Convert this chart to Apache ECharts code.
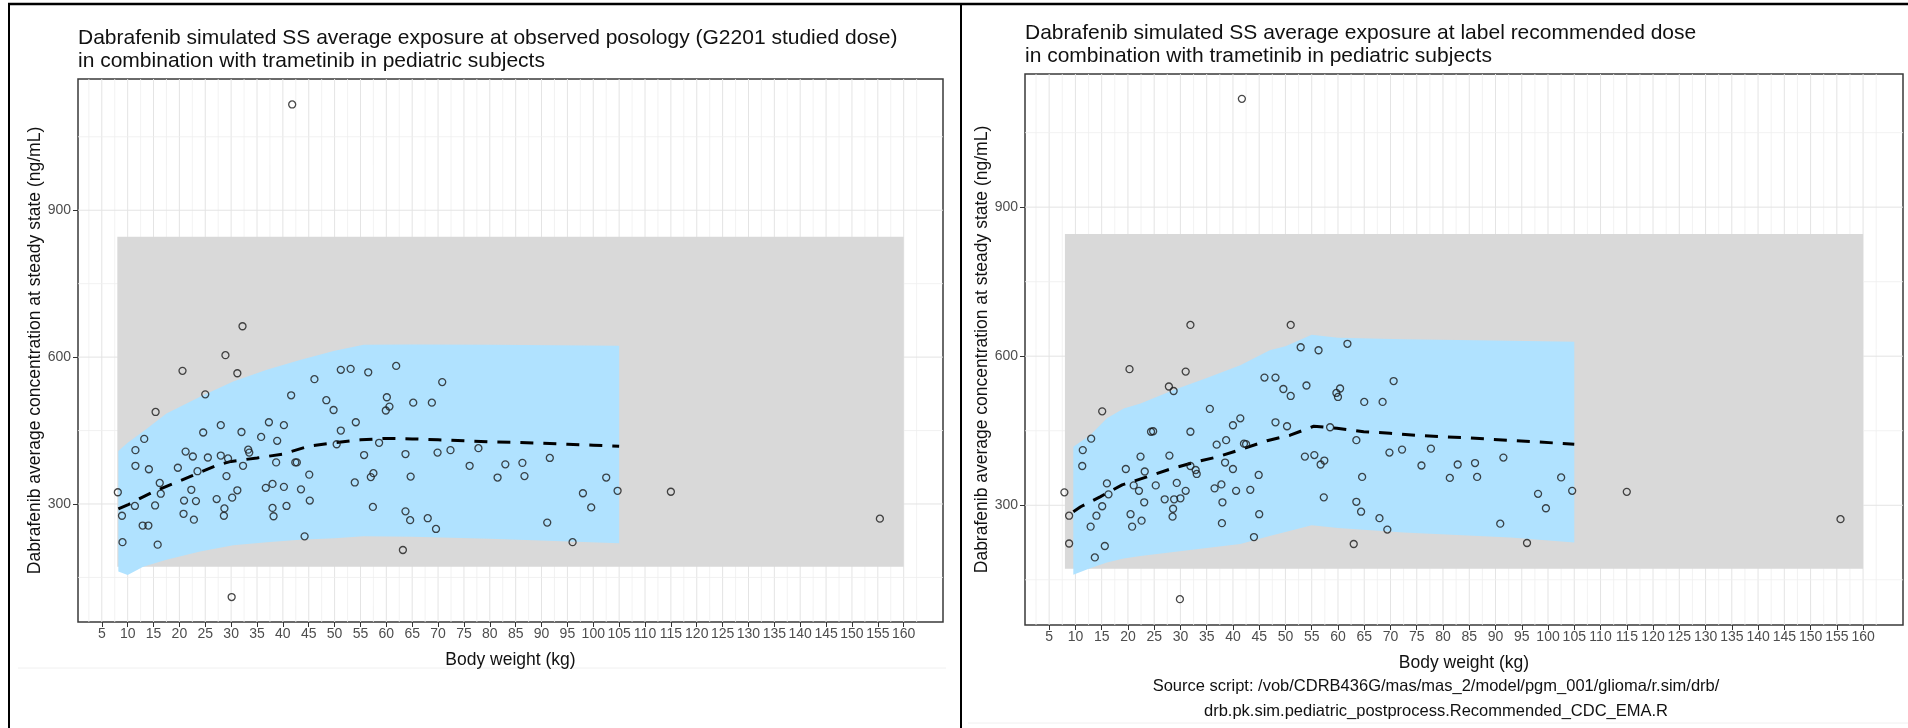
<!DOCTYPE html>
<html><head><meta charset="utf-8">
<script src="https://cdn.jsdelivr.net/npm/echarts@6/dist/echarts.min.js"></script>
<style>html,body{margin:0;padding:0;background:#fff}#c{width:1908px;height:728px}</style>
</head><body><div id="c"></div>
<script>
// ---------- data ----------
const xTicks = [5,10,15,20,25,30,35,40,45,50,55,60,65,70,75,80,85,90,95,100,105,110,115,120,125,130,135,140,145,150,155,160];
const yTicks = [300,600,900];
const yMinorGrid = [150,450,750,1050];
const xRange = [0.4, 167.6];
const yRange = [59, 1168];
const refBoxX = [8, 160];
const refBoxY = [172, 846];

const leftTitle = 'Dabrafenib simulated SS average exposure at observed posology (G2201 studied dose)\nin combination with trametinib in pediatric subjects';
const rightTitle = 'Dabrafenib simulated SS average exposure at label recommended dose\nin combination with trametinib in pediatric subjects';
const yName = 'Dabrafenib average concentration at steady state (ng/mL)';
const xName = 'Body weight (kg)';
const captionLines = ['Source script: /vob/CDRB436G/mas/mas_2/model/pgm_001/glioma/r.sim/drb/', 'drb.pk.sim.pediatric_postprocess.Recommended_CDC_EMA.R'];

const leftPoints = [
[32.2,663],[28.9,604],[20.6,572],[31.2,567],[25.0,524],[15.4,488],[46.1,555],[41.6,522],[48.4,512],[49.8,492],
[24.6,446],[28.0,461],[32.0,447],[37.3,467],[40.2,461],[35.8,437],[38.9,429],[33.3,411],[33.5,405],[13.2,433],
[11.5,410],[11.5,378],[14.1,371],[8.1,324],[16.2,343],[16.4,321],[11.4,296],[8.9,276],[9.0,222],[12.9,256],
[14.0,256],[15.3,297],[15.8,217],[19.7,374],[21.2,407],[22.6,397],[23.5,367],[25.5,395],[28.0,399],[29.4,393],
[29.1,357],[32.3,378],[22.3,329],[20.9,307],[23.2,306],[20.8,280],[22.8,268],[27.2,310],[30.2,313],[31.2,328],
[28.7,291],[28.6,276],[36.7,333],[38.0,341],[38.7,385],[42.4,385],[42.7,385],[40.2,335],[43.5,330],[45.1,360],
[45.2,307],[38.0,292],[38.2,275],[40.7,296],[44.2,234],[30.1,110],
[51.2,574],[53.1,576],[56.5,569],[61.9,582],[70.8,549],[60.1,518],[60.6,499],[59.9,491],[65.2,507],[68.8,507],
[51.2,450],[54.1,467],[50.4,422],[58.6,425],[55.7,400],[63.7,402],[69.9,405],[72.4,410],[77.8,414],[76.1,378],
[83.0,381],[86.3,384],[86.7,357],[81.5,354],[91.6,394],[53.9,344],[57.0,355],[57.5,363],[64.7,356],[57.4,294],
[63.7,285],[64.6,267],[68.0,271],[69.6,249],[63.2,206],[91.1,262],
[96.0,222],[98.0,322],[99.6,293],[102.5,354],[104.7,327],[115.0,325],[155.4,270],[41.8,1116]
];
const rightPoints = [
[31.9,663],[20.3,574],[31.0,569],[27.8,539],[28.7,530],[15.1,489],[35.6,494],[46.0,557],[48.1,557],[48.1,467],
[41.4,475],[40.0,461],[31.9,448],[24.4,448],[24.8,449],[36.9,422],[38.7,431],[42.1,424],[42.5,423],[13.0,434],
[11.4,411],[11.3,379],[7.9,326],[8.8,279],[8.8,223],[22.4,398],[19.6,373],[23.2,368],[27.9,400],[16.0,344],
[16.3,322],[21.1,340],[22.1,329],[25.3,340],[29.3,345],[31.0,329],[23.1,306],[27.0,312],[28.8,312],[30.0,314],
[28.6,293],[28.5,277],[20.5,282],[20.8,257],[22.6,269],[15.1,298],[14.0,279],[12.9,257],[15.6,218],[13.7,195],
[31.9,379],[32.9,371],[33.1,363],[38.5,386],[40.0,373],[44.9,361],[36.5,334],[37.8,342],[40.6,329],[43.3,331],
[38.0,306],[37.9,264],[45.0,282],[44.0,236],[29.9,111],
[51.0,663],[52.9,618],[56.3,612],[61.8,625],[49.6,534],[51.0,520],[54.0,541],[59.7,526],[60.4,535],[60.0,518],
[70.6,550],[65.0,508],[68.5,508],[50.3,459],[58.5,457],[63.5,431],[53.7,398],[55.5,401],[56.7,382],[57.4,390],
[64.6,357],[69.8,406],[72.2,412],[77.7,414],[75.9,380],[82.8,382],[86.1,385],[81.3,355],[86.5,357],[91.5,396],
[57.3,316],[63.5,307],[64.4,287],[67.9,274],[69.4,251],[63.0,222],[90.9,263],
[96.0,224],[98.1,323],[99.6,294],[102.5,356],[104.6,329],[115.0,327],[155.7,272],[41.7,1118]
];

const leftLineX = [8.2,10,12.5,15,17.5,20,22.5,25,27.5,30,35,40,45,50,55,60,65,70,75,80,85,90,95,100,105];
const leftLineY = [290,298,312,325,336,347,358,369,380,387,394,402,418,425,431,434,433,431,429,427,426,424,422,420,418];
const rightLineX = [9.6,11,14.7,18.9,23.6,28.1,32.5,37.3,41.7,46.5,50.9,55.4,59.8,64.9,69.9,74.7,79.5,84.2,89,105];
const rightLineY = [287,297,317,341,357,373,386,398,413,430,441,459,455,448,445,441,438,436,433,423];

const leftBandX = [8.2,10,13,17.5,24,30.4,36.9,43.3,50,55.6,65,80,105];
const leftBandHigh = [408,425,448,485,519,550,574,594,613,625,626,625,623];
const leftBandLow = [162,155,172,186,203,216,222,227,230,234,233,229,220];
const rightBandX = [9.6,12.8,16,19.2,22.4,28.7,35,41.4,47,50,55,60,72.5,92.8,105];
const rightBandHigh = [418,441,475,495,505,532,556,582,612,620,643,637,634,631,629];
const rightBandLow = [160,173,185,193,198,206,214,222,238,246,260,254,245,235,225];

// ---------- styling / helpers ----------
const FONT = '"Liberation Sans", Arial, Helvetica, sans-serif';
const xMinorGrid = [];
for (let i = 0; i < xTicks.length; i++) { xMinorGrid.push(xTicks[i] - (xTicks[1]-xTicks[0])/2); }
xMinorGrid.push(xTicks[xTicks.length-1] + (xTicks[1]-xTicks[0])/2);

function vLines(idx, values, color, width) {
  return { type:'custom', xAxisIndex:idx, yAxisIndex:idx, silent:true, z:1,
    data: values.map(v => [v, v]), encode:{x:0, y:1},
    renderItem: (params, api) => {
      const cs = params.coordSys;
      const x = api.coord([api.value(0), yRange[0]])[0];
      return {type:'line', shape:{x1:x, y1:cs.y, x2:x, y2:cs.y+cs.height}, style:{stroke:color, lineWidth:width}};
    }};
}
function hLines(idx, values, color, width) {
  return { type:'custom', xAxisIndex:idx, yAxisIndex:idx, silent:true, z:1,
    data: values.map(v => [v, v]), encode:{x:0, y:1},
    renderItem: (params, api) => {
      const cs = params.coordSys;
      const y = api.coord([xRange[0], api.value(1)])[1];
      return {type:'line', shape:{x1:cs.x, y1:y, x2:cs.x+cs.width, y2:y}, style:{stroke:color, lineWidth:width}};
    }};
}
function refBox(idx) {
  return { type:'custom', xAxisIndex:idx, yAxisIndex:idx, silent:true, z:2,
    data: [[refBoxX[0], refBoxY[0], refBoxX[1], refBoxY[1]]], encode:{x:[0,2], y:[1,3]},
    renderItem: (params, api) => {
      const a = api.coord([api.value(0), api.value(3)]);
      const b = api.coord([api.value(2), api.value(1)]);
      return {type:'rect', shape:{x:a[0], y:a[1], width:b[0]-a[0], height:b[1]-a[1]}, style:{fill:'#d9d9d9'}};
    }};
}
function band(idx, bx, lo, hi) {
  return { type:'custom', xAxisIndex:idx, yAxisIndex:idx, silent:true, z:3,
    data: bx.map((x,i) => [x, lo[i], hi[i]]), encode:{x:0, y:[1,2]},
    renderItem: (params, api) => {
      if (params.dataIndex !== 0) return null;
      const pts = [];
      for (let i = 0; i < bx.length; i++) pts.push(api.coord([bx[i], hi[i]]));
      for (let i = bx.length-1; i >= 0; i--) pts.push(api.coord([bx[i], lo[i]]));
      return {type:'polygon', shape:{points:pts}, style:{fill:'#b0e2ff'}};
    }};
}
function meanLine(idx, lx, ly) {
  return { type:'line', xAxisIndex:idx, yAxisIndex:idx, z:4, silent:true, symbol:'none',
    data: lx.map((x,i) => [x, ly[i]]),
    lineStyle:{color:'#000', width:3, type:[13,10]} };
}
function points(idx, pts) {
  return { type:'scatter', xAxisIndex:idx, yAxisIndex:idx, z:5, silent:true,
    data: pts, symbol:'circle', symbolSize:7,
    itemStyle:{color:'rgba(0,0,0,0)', borderColor:'#1a1a1a', borderWidth:1.3} };
}
function xAx(idx) {
  return { type:'value', gridIndex:idx, min:xRange[0], max:xRange[1],
    name:xName, nameLocation:'middle', nameGap:29,
    nameTextStyle:{fontSize:17.5, color:'#111', fontFamily:FONT},
    axisLine:{show:false}, splitLine:{show:false},
    axisTick:{show:true, customValues:xTicks, length:5, lineStyle:{color:'#333', width:1}},
    axisLabel:{customValues:xTicks, margin:5, fontSize:14, color:'#4d4d4d', fontFamily:FONT} };
}
function yAx(idx) {
  return { type:'value', gridIndex:idx, min:yRange[0], max:yRange[1],
    name:yName, nameLocation:'middle', nameGap:34, nameRotate:90,
    nameTextStyle:{fontSize:17.5, color:'#111', fontFamily:FONT},
    axisLine:{show:false}, splitLine:{show:false},
    axisTick:{show:true, customValues:yTicks, length:5, lineStyle:{color:'#333', width:1}},
    axisLabel:{customValues:yTicks, margin:7, fontSize:14, color:'#4d4d4d', fontFamily:FONT} };
}
const titleStyle = {fontSize:21, fontWeight:'normal', color:'#111', lineHeight:23, fontFamily:FONT};

const chart = echarts.init(document.getElementById('c'), null, {renderer:'canvas'});
chart.setOption({
  backgroundColor:'#fff',
  animation:false,
  title:[
    {text:leftTitle, left:78, top:27, padding:0, textStyle:titleStyle},
    {text:rightTitle, left:1025, top:22, padding:0, textStyle:titleStyle}
  ],
  grid:[
    {left:78, top:79, width:865, height:543, show:true, backgroundColor:'#fff', borderColor:'#3a3a3a', borderWidth:1.5},
    {left:1025, top:74, width:878, height:551, show:true, backgroundColor:'#fff', borderColor:'#3a3a3a', borderWidth:1.5}
  ],
  xAxis:[xAx(0), xAx(1)],
  yAxis:[yAx(0), yAx(1)],
  series:[
    vLines(0, xMinorGrid, '#efefef', 0.8), vLines(0, xTicks, '#e4e4e4', 1),
    hLines(0, yMinorGrid, '#efefef', 0.8), hLines(0, yTicks, '#e4e4e4', 1),
    refBox(0), band(0, leftBandX, leftBandLow, leftBandHigh),
    meanLine(0, leftLineX, leftLineY), points(0, leftPoints),
    vLines(1, xMinorGrid, '#efefef', 0.8), vLines(1, xTicks, '#e4e4e4', 1),
    hLines(1, yMinorGrid, '#efefef', 0.8), hLines(1, yTicks, '#e4e4e4', 1),
    refBox(1), band(1, rightBandX, rightBandLow, rightBandHigh),
    meanLine(1, rightLineX, rightLineY), points(1, rightPoints)
  ],
  graphic:[
    {type:'line', shape:{x1:8, y1:4, x2:1908, y2:4}, style:{stroke:'#000', lineWidth:2.5}, silent:true},
    {type:'line', shape:{x1:9, y1:4, x2:9, y2:728}, style:{stroke:'#000', lineWidth:2}, silent:true},
    {type:'line', shape:{x1:961, y1:4, x2:961, y2:728}, style:{stroke:'#000', lineWidth:2}, silent:true},
    {type:'line', shape:{x1:18, y1:668, x2:946, y2:668}, style:{stroke:'#f0f0f0', lineWidth:1}, silent:true},
    {type:'line', shape:{x1:968, y1:723, x2:1908, y2:723}, style:{stroke:'#f0f0f0', lineWidth:1}, silent:true},
    {type:'text', x:1436, y:686, silent:true, style:{text:captionLines[0], textAlign:'center', textVerticalAlign:'middle', font:'16.5px ' + FONT, fill:'#111'}},
    {type:'text', x:1436, y:711, silent:true, style:{text:captionLines[1], textAlign:'center', textVerticalAlign:'middle', font:'16.5px ' + FONT, fill:'#111'}}
  ]
});
</script>
</body></html>
